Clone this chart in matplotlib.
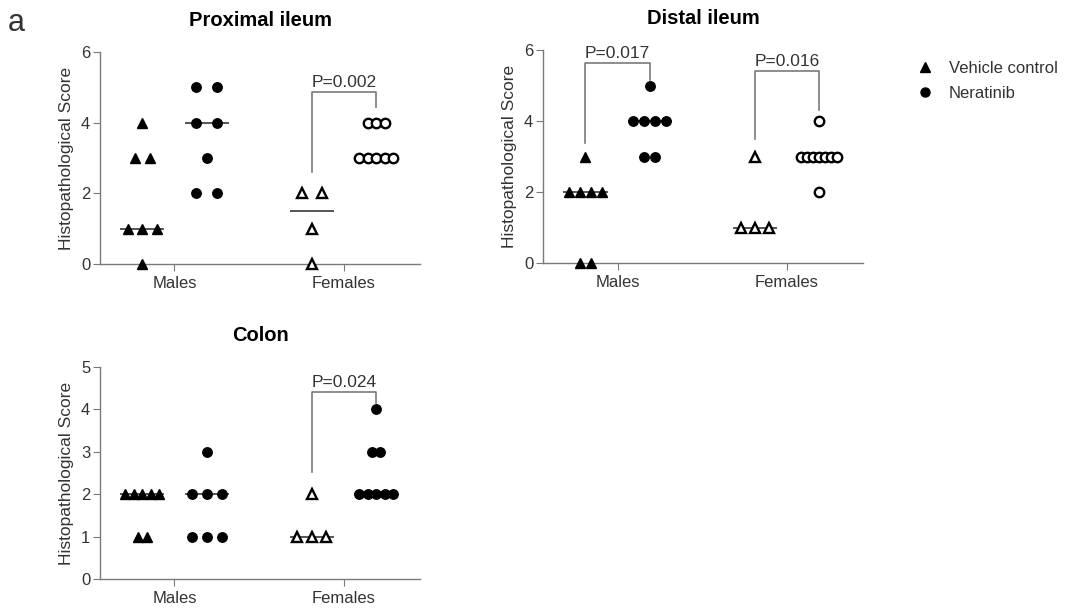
import numpy as np
import matplotlib
matplotlib.use("Agg")
import matplotlib.pyplot as plt
from matplotlib.lines import Line2D

plt.rcParams["font.family"] = ["Liberation Sans", "DejaVu Sans"]

# ---- data ----
groups = ["Males", "Females"]

prox_male_veh = [4, 3, 3, 1, 1, 1, 0]
prox_male_ner = [5, 5, 4, 4, 3, 2, 2]
prox_fem_veh = [2, 2, 1, 0]
prox_fem_ner = [4, 4, 4, 3, 3, 3, 3, 3]

dist_male_veh = [3, 2, 2, 2, 2, 0, 0]
dist_male_ner = [5, 4, 4, 4, 4, 3, 3]
dist_fem_veh = [3, 1, 1, 1]
dist_fem_ner = [4, 3, 3, 3, 3, 3, 3, 3, 2]

colon_male_veh = [2, 2, 2, 2, 2, 1, 1]
colon_male_ner = [3, 2, 2, 2, 1, 1, 1]
colon_fem_veh = [2, 1, 1, 1]
colon_fem_ner = [4, 3, 3, 2, 2, 2, 2, 2]

p_labels_prox = ["P=0.002"]
p_labels_dist = ["P=0.017", "P=0.016"]
p_labels_colon = ["P=0.024"]

GREY = "#7a7a7a"
TXT = "#333333"
OFF = 0.19


def swarm(ax, x0, vals, spacing, marker, filled, ms=6.8):
    vals = np.array(vals, dtype=float)
    xs = []
    ys = []
    for v in np.unique(vals):
        n = int((vals == v).sum())
        for i in range(n):
            xs.append(x0 + (i - (n - 1) / 2) * spacing)
            ys.append(v)
    med = np.median(vals)
    ax.plot([x0 - 0.125, x0 + 0.125], [med, med], color="#555555", lw=1.4, zorder=2)
    ax.plot(xs, ys, ls="none", marker=marker, ms=ms,
            mfc="black" if filled else "white", mec="black",
            mew=1.0 if filled else 1.7, zorder=3, clip_on=False)


def bracket(ax, x1, x2, yl, ytop, yr, label):
    ax.plot([x1, x1, x2, x2], [yl, ytop, ytop, yr], color=GREY, lw=1.2, zorder=1,
            clip_on=False)
    ax.text((x1 + x2) / 2, ytop + 0.06, label, ha="center", va="bottom",
            fontsize=12.5, color=TXT)


def style(ax, title, ymax, yticks):
    ax.set_xlim(-0.44, 1.45)
    ax.set_ylim(0, ymax)
    ax.set_xticks([0, 1])
    ax.set_xticklabels(groups)
    ax.set_yticks(yticks)
    for s in ["top", "right"]:
        ax.spines[s].set_visible(False)
    for s in ["left", "bottom"]:
        ax.spines[s].set_color(GREY)
        ax.spines[s].set_linewidth(1.0)
    ax.tick_params(colors=GREY, labelcolor=TXT, labelsize=12, length=5)
    ax.tick_params(axis="y", pad=2)
    ax.set_ylabel("Histopathological Score", fontsize=12.5, color=TXT, labelpad=5)
    ax.set_title(title, fontsize=14.5, fontweight="bold", pad=19)


fig = plt.figure(figsize=(10.67, 6.08), dpi=100)
ax1 = fig.add_axes([0.0937, 0.5658, 0.300, 0.3487])
ax2 = fig.add_axes([0.5089, 0.5674, 0.300, 0.3503])
ax3 = fig.add_axes([0.0937, 0.0477, 0.300, 0.3487])

# Proximal ileum
swarm(ax1, 0 - OFF, prox_male_veh, 0.086, "^", True)
swarm(ax1, 0 + OFF, prox_male_ner, 0.124, "o", True)
swarm(ax1, 1 - OFF, prox_fem_veh, 0.118, "^", False)
swarm(ax1, 1 + OFF, prox_fem_ner, 0.05, "o", False)
bracket(ax1, 1 - OFF, 1 + OFF, 2.6, 4.87, 4.45, p_labels_prox[0])
style(ax1, "Proximal ileum", 6, [0, 2, 4, 6])

# Distal ileum
swarm(ax2, 0 - OFF, dist_male_veh, 0.065, "^", True)
swarm(ax2, 0 + OFF, dist_male_ner, 0.065, "o", True)
swarm(ax2, 1 - OFF, dist_fem_veh, 0.082, "^", False)
swarm(ax2, 1 + OFF, dist_fem_ner, 0.035, "o", False)
bracket(ax2, 0 - OFF, 0 + OFF, 3.38, 5.63, 5.15, p_labels_dist[0])
bracket(ax2, 1 - OFF, 1 + OFF, 3.5, 5.4, 4.3, p_labels_dist[1])
style(ax2, "Distal ileum", 6, [0, 2, 4, 6])

# Colon
swarm(ax3, 0 - OFF, colon_male_veh, 0.05, "^", True)
swarm(ax3, 0 + OFF, colon_male_ner, 0.088, "o", True)
swarm(ax3, 1 - OFF, colon_fem_veh, 0.086, "^", False)
swarm(ax3, 1 + OFF, colon_fem_ner, 0.05, "o", True)
bracket(ax3, 1 - OFF, 1 + OFF, 2.52, 4.4, 4.16, p_labels_colon[0])
style(ax3, "Colon", 5, [0, 1, 2, 3, 4, 5])

handles = [
    Line2D([], [], ls="none", marker="^", ms=6.5, color="black"),
    Line2D([], [], ls="none", marker="o", ms=6.5, color="black"),
]
fig.legend(handles, ["Vehicle control", "Neratinib"], loc="upper left",
           bbox_to_anchor=(0.845, 0.925), frameon=False, fontsize=12,
           handlelength=1.0, handletextpad=0.95, labelspacing=0.6,
           labelcolor=TXT)

fig.text(0.007, 0.962, "a", fontsize=22, color=TXT, va="center")

fig.savefig("out.png", dpi=100)
